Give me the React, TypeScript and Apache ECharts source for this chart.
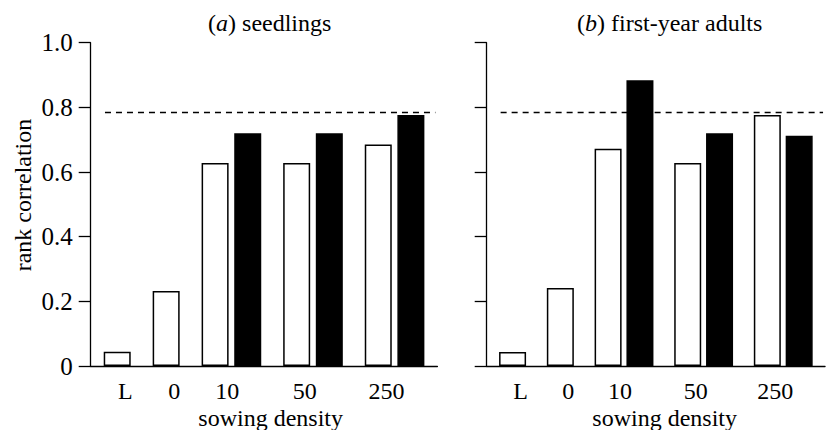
import React, { useEffect, useRef } from "react";
import * as echarts from "echarts";

// ---- data ----
const groups = ["L", "0", "10", "50", "250"];
const seedlingsOpen = [0.044, 0.232, 0.628, 0.628, 0.685];
const seedlingsFilled = [null, null, 0.72, 0.72, 0.776];
const adultsOpen = [0.043, 0.241, 0.672, 0.628, 0.776];
const adultsFilled = [null, null, 0.884, 0.72, 0.712];
const threshold = 0.784;
const yTickLabels = ["0", "0.2", "0.4", "0.6", "0.8", "1.0"];
const panelTitles = ["a", "b"];
const panelNames = ["seedlings", "first-year adults"];

// ---- layout (slot positions along a fine category axis) ----
const SLOT_COUNT = 85;
const OPEN_SLOTS = [6, 18, 30, 50, 70];
const FILLED_SLOTS = [null, null, 38, 58, 78];
const LABEL_SLOTS = [8, 20, 33, 52, 72];
const LINE_START = 3;
const LINE_END = 84;

const FONT = '"Liberation Serif", "Times New Roman", serif';
const GRID_TOP = 42.7;
const GRID_H = 323.3;
const GRID_W = 346.7;
const GRID_LEFTS = [90.7, 486.7];

function toSlots(values: (number | null)[], slots: (number | null)[]) {
  const arr: any[] = new Array(SLOT_COUNT).fill("-");
  values.forEach((v, i) => {
    const s = slots[i];
    if (v != null && s != null) arr[s] = v;
  });
  return arr;
}

const slotNames = Array.from({ length: SLOT_COUNT }, (_, i) => "s" + i);
const labelAt: Record<number, string> = {};
LABEL_SLOTS.forEach((s, i) => (labelAt[s] = groups[i]));

function buildOption() {
  const panels = [
    { open: seedlingsOpen, filled: seedlingsFilled },
    { open: adultsOpen, filled: adultsFilled },
  ];
  const axisLine = { show: true, lineStyle: { color: "#000", width: 1.3 } };
  return {
    animation: false,
    backgroundColor: "#fff",
    title: panelTitles.map((t, i) => ({
      text: "({it|" + t + "}) " + panelNames[i],
      left: GRID_LEFTS[i] + (i === 0 ? 174 : 178),
      top: 6,
      textAlign: "center",
      textStyle: {
        fontFamily: FONT,
        fontSize: 24,
        fontWeight: "normal",
        color: "#000",
        rich: {
          it: { fontFamily: FONT, fontSize: 24, fontStyle: "italic", color: "#000" },
        },
      },
    })),
    grid: GRID_LEFTS.map((l) => ({ left: l, top: GRID_TOP, width: GRID_W, height: GRID_H })),
    xAxis: GRID_LEFTS.map((_, i) => ({
      type: "category",
      gridIndex: i,
      data: slotNames,
      boundaryGap: true,
      axisLine,
      axisTick: { show: false },
      splitLine: { show: false },
      axisLabel: {
        interval: 0,
        margin: 13,
        fontFamily: FONT,
        fontSize: 24,
        color: "#000",
        formatter: (_v: string, idx: number) => labelAt[idx] ?? "",
      },
    })),
    yAxis: GRID_LEFTS.map((_, i) => ({
      type: "value",
      gridIndex: i,
      min: 0,
      max: 1,
      interval: 0.2,
      axisLine,
      axisTick: { show: true, length: 12, lineStyle: { color: "#000", width: 1.3 } },
      splitLine: { show: false },
      axisLabel: {
        show: i === 0,
        margin: 18,
        fontFamily: FONT,
        fontSize: 25,
        color: "#000",
        formatter: (v: number) => yTickLabels[Math.round(v / 0.2)] ?? "",
      },
    })),
    series: panels.flatMap((p, i) => [
      {
        type: "bar",
        xAxisIndex: i,
        yAxisIndex: i,
        data: toSlots(p.open, OPEN_SLOTS),
        barWidth: 27,
        barGap: "-100%",
        itemStyle: { color: "#fff", borderColor: "#000", borderWidth: 1.5 },
        markLine: {
          silent: true,
          symbol: "none",
          label: { show: false },
          lineStyle: { color: "#000", width: 1.3, type: [6, 5] },
          data: [[{ coord: [LINE_START, threshold] }, { coord: [LINE_END, threshold] }]],
        },
      },
      {
        type: "bar",
        xAxisIndex: i,
        yAxisIndex: i,
        data: toSlots(p.filled, FILLED_SLOTS),
        barWidth: 27,
        barGap: "-100%",
        itemStyle: { color: "#000", borderColor: "#000", borderWidth: 1.5 },
      },
    ]),
    graphic: [
      {
        type: "text",
        x: 23,
        y: 195,
        rotation: Math.PI / 2,
        style: {
          text: "rank correlation",
          fontFamily: FONT,
          fontSize: 24,
          fill: "#000",
          align: "center",
          verticalAlign: "middle",
        },
      },
      ...GRID_LEFTS.map((l, i) => ({
        type: "text",
        x: l + (i === 0 ? 180 : 178),
        y: 418,
        style: {
          text: "sowing density",
          fontFamily: FONT,
          fontSize: 24,
          fill: "#000",
          align: "center",
          verticalAlign: "middle",
        },
      })),
    ],
  };
}

export default function App() {
  const ref = useRef<HTMLDivElement>(null);
  useEffect(() => {
    if (!ref.current) return;
    const chart = echarts.init(ref.current, null, { renderer: "svg" });
    chart.setOption(buildOption() as any);
    return () => chart.dispose();
  }, []);
  return (
    <div
      ref={ref}
      style={{ position: "fixed", left: 0, top: 0, width: 826, height: 430, background: "#fff" }}
    />
  );
}
